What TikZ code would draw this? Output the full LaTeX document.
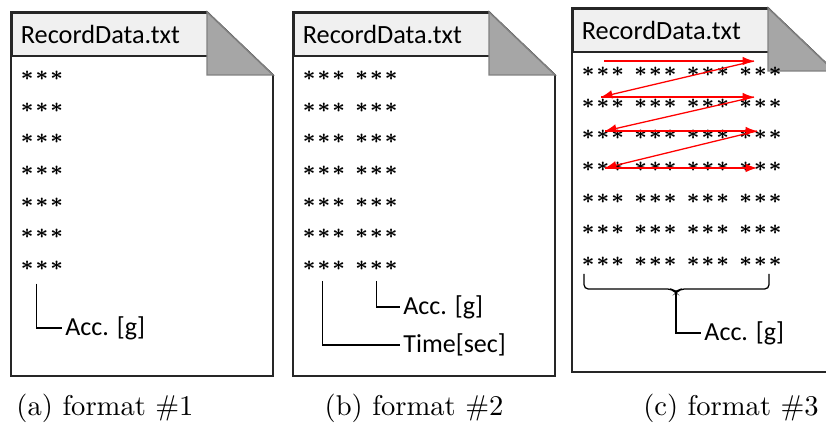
\documentclass[tikz,border=0pt]{standalone}
\usepackage{fontspec}
\newfontfamily\calibri{Carlito}
\usetikzlibrary{arrows.meta}
\tikzset{
  page/.style={
    draw=black!85,
    line width=0.6pt,
    fill=white
  },
  header/.style={
    draw=black!85,
    line width=0.6pt,
    fill=black!6,
    anchor=north west,
    minimum height=15pt,
    text width=62.3pt,
    inner xsep=3.15pt,
    align=left,
    font=\calibri\fontsize{9.2}{11}\selectfont
  },
  fold/.style={
    draw=black!50,
    line width=0.5pt,
    fill=black!35
  },
  stars/.style={
    anchor=west,
    inner sep=0pt,
    font=\fontsize{7.5}{8}\selectfont\boldmath
  },
  lbl/.style={
    anchor=west,
    inner sep=1pt,
    font=\calibri\fontsize{9.1}{11}\selectfont
  },
  lead/.style={line width=0.45pt},
  zig/.style={red, line width=0.45pt, -{Latex[length=4pt,width=3pt]}},
  caption/.style={font=\fontsize{10}{12}\selectfont}
}
\newcommand{\astrow}{$\mathord\ast\kern0.6pt\mathord\ast\kern0.6pt\mathord\ast$}

\begin{document}
\begin{tikzpicture}[x=0.35pt,y=-0.35pt]
    \useasboundingbox (0,0) rectangle (826,427);
    \clip (0,0) rectangle (826,427);
    % the three files
    \foreach \px/\py/\n/\cols in {11/12/a/1,293/12/b/2,572/8/c/4}{
        \begin{scope}[shift={(\px,\py)}]
            \draw[page] (0,0) -- (196,0) -- (262,63) -- (262,364) -- (0,364) -- cycle;
            \node[header] (hdr-\n) at (0,0) {RecordData.txt};
            \draw[fold] (196,0) -- (262,63) -- (196,63) -- cycle;
            \foreach \r in {1,...,7}{
                \foreach \c in {1,...,\cols}{
                    \node[stars] (\n-\r-\c) at ({9+52.5*(\c-1)},{64+31.6*(\r-1)}) {\astrow};
                }
            }
        \end{scope}
    }
    % (a)
    \node[lbl] (acc-a) at (62,328) {Acc. [g]};
    \draw[lead] ([xshift=-1.8pt,yshift=-4.5pt]a-7-1.south) |- (acc-a.west);
    % (b)
    \node[lbl] (acc-b) at (400,307) {Acc. [g]};
    \node[lbl] (time-b) at (400,345) {Time[sec]};
    \draw[lead] ([yshift=-3.5pt]b-7-2.south) |- (acc-b.west);
    \draw[lead] ([xshift=-0.6pt,yshift=-3.5pt]b-7-1.south) |- (time-b.west);
    % (c)
    \node[lbl] (acc-c) at (701,333) {Acc. [g]};
    \coordinate (tip) at (676,293);
    \draw[lead, rounded corners=1.5pt] (584,274) |- (672,289) -- (tip) -- (680,289) -| (769,274);
    \draw[lead] (tip) |- (acc-c.west);
    \coordinate (z1) at (604,61);
    \coordinate (z2) at (754,61);
    \coordinate (z3) at (601,97);
    \coordinate (z4) at (754,97);
    \coordinate (z5) at (605,131);
    \coordinate (z6) at (757,131);
    \coordinate (z7) at (605,168);
    \coordinate (z8) at (757,168);
    \foreach \i/\j in {1/2,2/3,3/4,4/5,5/6,6/7,7/8}{
        \draw[zig] (z\i) -- (z\j);
    }
    % captions
    \node[caption] (cap-a) at (105,408) {(a) format \#1};
    \node[caption] (cap-b) at (414,408) {(b) format \#2};
    \node[caption] (cap-c) at (731,408) {(c) format \#3};
\end{tikzpicture}
\end{document}
